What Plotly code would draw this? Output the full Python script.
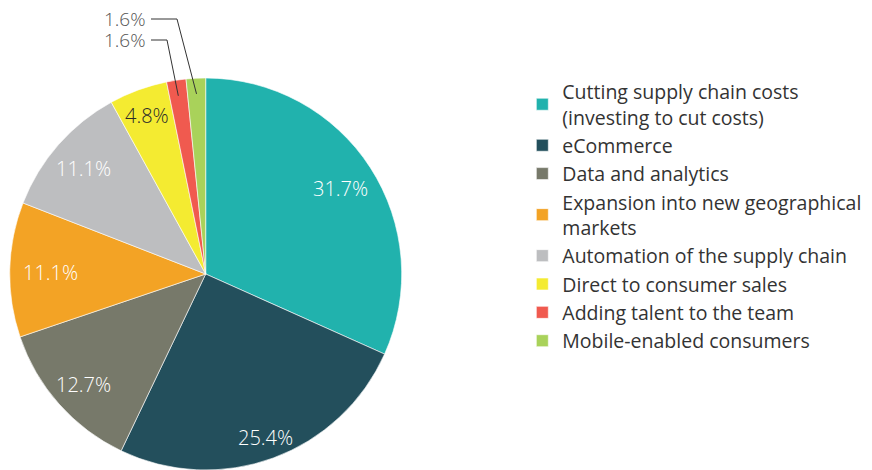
import math
import plotly.graph_objects as go

# Share of respondents by investment priority
categories = [
    "Cutting supply chain costs<br>(investing to cut costs)",
    "eCommerce",
    "Data and analytics",
    "Expansion into new geographical<br>markets",
    "Automation of the supply chain",
    "Direct to consumer sales",
    "Adding talent to the team",
    "Mobile-enabled consumers",
]
shares = [31.7, 25.4, 12.7, 11.1, 11.1, 4.8, 1.6, 1.6]
colors = ["#21B2AD", "#234F5C", "#77796A", "#F3A325",
          "#BDBEC0", "#F4EB31", "#F05A4F", "#A9D25A"]
label_colors = ["white", "white", "white", "white", "white", "#2b2b2b", None, None]
# radial placement of inside labels, as a fraction of the radius
label_radius = [0.82, 0.88, 0.835, 0.79, 0.83, 0.87, None, None]

W, H = 872, 470
CX, CY, R = 205.7, 276.0, 196.0   # pie centre and radius in pixels
FONT = "Open Sans"

fig = go.Figure(go.Pie(
    labels=categories,
    values=shares,
    sort=False,
    direction="clockwise",
    rotation=0,
    marker=dict(colors=colors, line=dict(color="white", width=0.6)),
    textinfo="none",
    hoverinfo="label+percent",
    domain=dict(x=[(CX - R) / W, (CX + R) / W], y=[(H - CY - R) / H if CY + R < H else 0, 2 * R / H]),
))


def to_paper(px, py):
    return px / W, 1 - py / H


def mid_angle(i):
    total = sum(shares)
    start = sum(shares[:i])
    return 2 * math.pi * (start + shares[i] / 2) / total


annotations = []
for i, v in enumerate(shares):
    if label_radius[i] is None:
        continue
    a = mid_angle(i)
    r = R * label_radius[i]
    x, y = to_paper(CX + r * math.sin(a), CY - r * math.cos(a))
    annotations.append(dict(
        x=x, y=y, xref="paper", yref="paper", text=f"{v}%", showarrow=False,
        font=dict(family=FONT, size=20, color=label_colors[i], weight=300),
        xanchor="center", yanchor="middle",
    ))

# callouts for the two smallest slices: text, horizontal stub, diagonal leader
shapes = []
callouts = [(7, 19, 177), (6, 40, 167)]   # slice index, text row y, elbow x
for idx, ty, ex in callouts:
    a = mid_angle(idx)
    r = R * 0.93
    px, py = CX + r * math.sin(a), CY - r * math.cos(a)
    x0, y0 = to_paper(151, ty)
    x1, y1 = to_paper(ex, ty)
    x2, y2 = to_paper(px, py)
    shapes.append(dict(
        type="path", xref="paper", yref="paper",
        path=f"M {x0},{y0} L {x1},{y1} L {x2},{y2}",
        line=dict(color="#333333", width=1),
    ))
    tx, tyy = to_paper(148, ty)
    annotations.append(dict(
        x=tx, y=tyy, xref="paper", yref="paper", text=f"{shares[idx]}%",
        showarrow=False, xanchor="right", yanchor="middle",
        font=dict(family=FONT, size=19, color="#555555", weight=300),
    ))

fig.update_layout(
    width=W, height=H,
    margin=dict(l=0, r=0, t=0, b=0),
    paper_bgcolor="white",
    plot_bgcolor="white",
    showlegend=True,
    legend=dict(
        x=0.599, y=0.846, xanchor="left", yanchor="top",
        font=dict(family=FONT, size=19.5, color="#333333", weight=400),
        tracegroupgap=0, itemwidth=30,
        bgcolor="rgba(0,0,0,0)",
    ),
    annotations=annotations,
    shapes=shapes,
)

fig.write_html("out.html")
